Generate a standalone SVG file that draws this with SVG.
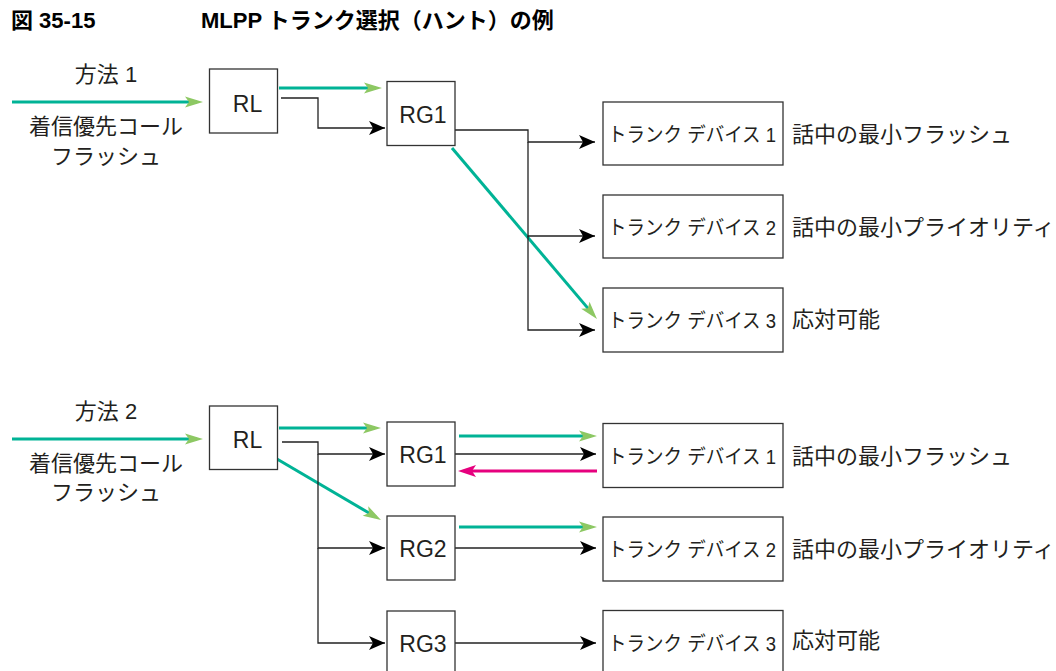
<svg xmlns="http://www.w3.org/2000/svg" width="1056" height="671" viewBox="0 0 1056 671">
<style>
text{font-family:"Liberation Sans","Noto Sans CJK JP",sans-serif;fill:#231f20}
.title{font-size:22px;font-weight:bold;fill:#000}
.lbl{font-size:22px}
.box{fill:#fff;stroke:#333;stroke-width:1.3}
.bt{font-size:23px;text-anchor:middle}
.tt{font-size:20px}
.blk{fill:none;stroke:#222;stroke-width:1.3;marker-end:url(#ab)}
.teal{fill:none;stroke:#00b396;stroke-width:3;marker-end:url(#ag)}
.pink{fill:none;stroke:#e6007e;stroke-width:3;marker-end:url(#ap)}
</style>
<defs>
<marker id="ab" markerUnits="userSpaceOnUse" viewBox="-17 -8 18 16" markerWidth="18" markerHeight="16" refX="0" refY="0" orient="auto"><path d="M0,0 L-16,-7 L-12,0 L-16,7 Z" fill="#000"/></marker>
<marker id="ag" markerUnits="userSpaceOnUse" viewBox="-19 -7 20 14" markerWidth="20" markerHeight="14" refX="-6" refY="0" orient="auto"><path d="M0,0 L-18,-5.5 L-14,0 L-18,5.5 Z" fill="#8dc863"/></marker>
<marker id="ap" markerUnits="userSpaceOnUse" viewBox="-19 -7 20 14" markerWidth="20" markerHeight="14" refX="-6" refY="0" orient="auto"><path d="M0,0 L-18,-6 L-14,0 L-18,6 Z" fill="#e6007e"/></marker>
</defs>

<g id="title">
<text class="title" x="11" y="28">図 35-15</text>
<text class="title" x="201" y="28">MLPP トランク選択（ハント）の例</text>
</g>

<g id="labels1">
<text class="lbl" x="106" y="82" text-anchor="middle">方法 1</text>
<text class="lbl" x="106" y="134" text-anchor="middle">着信優先コール</text>
<text class="lbl" x="106" y="164" text-anchor="middle">フラッシュ</text>
</g>
<g id="labels2">
<text class="lbl" x="106" y="419" text-anchor="middle">方法 2</text>
<text class="lbl" x="106" y="471" text-anchor="middle">着信優先コール</text>
<text class="lbl" x="106" y="500" text-anchor="middle">フラッシュ</text>
</g>

<g id="connectors">
<path class="teal" d="M12,102 H197"/>
<path class="teal" d="M279,88 H376"/>
<path class="teal" d="M452,148 L593.1,314.4"/>
<path class="blk" d="M281,98 H318 V128 H385"/>
<path class="blk" d="M455,130 H528 V142 H595"/>
<path class="blk" d="M528,142 V236 H595"/>
<path class="blk" d="M528,236 V330 H595"/>
<path class="teal" d="M12,439 H197"/>
<path class="teal" d="M279,428 H375"/>
<path class="teal" d="M277,459 L375.8,517"/>
<path class="teal" d="M459,436 H591"/>
<path class="teal" d="M459,527 H591"/>
<path class="pink" d="M597,471 H464"/>
<path class="blk" d="M282,442 H318 V454 H385"/>
<path class="blk" d="M318,454 V548 H385"/>
<path class="blk" d="M318,548 V643 H385"/>
<path class="blk" d="M455,454 H596"/>
<path class="blk" d="M455,548 H596"/>
<path class="blk" d="M455,643 H596"/>
</g>

<g id="rl1"><rect class="box" x="209.5" y="69" width="68" height="64"/><text class="bt" x="247.5" y="112">RL</text></g>
<g id="rg1a"><rect class="box" x="387" y="81.5" width="68" height="64"/><text class="bt" x="423" y="122.5">RG1</text></g>
<g id="td1a"><rect class="box" x="603" y="102" width="180" height="63"/><text class="tt" x="608" y="141.5" textLength="168" lengthAdjust="spacingAndGlyphs">トランク デバイス 1</text></g>
<g id="td2a"><rect class="box" x="603" y="195" width="180" height="63"/><text class="tt" x="608" y="234.5" textLength="168" lengthAdjust="spacingAndGlyphs">トランク デバイス 2</text></g>
<g id="td3a"><rect class="box" x="603" y="288" width="180" height="64"/><text class="tt" x="608" y="328" textLength="168" lengthAdjust="spacingAndGlyphs">トランク デバイス 3</text></g>
<g id="st1a"><text class="lbl" x="792" y="142">話中の最小フラッシュ</text></g>
<g id="st2a"><text class="lbl" x="792" y="235">話中の最小プライオリティ</text></g>
<g id="st3a"><text class="lbl" x="792" y="327">応対可能</text></g>

<g id="rl2"><rect class="box" x="209.5" y="406" width="68" height="63.5"/><text class="bt" x="247.5" y="448">RL</text></g>
<g id="rg1b"><rect class="box" x="387" y="422" width="68" height="64"/><text class="bt" x="423" y="463">RG1</text></g>
<g id="rg2b"><rect class="box" x="387" y="516" width="68" height="64"/><text class="bt" x="423" y="557">RG2</text></g>
<g id="rg3b"><rect class="box" x="387" y="611" width="68" height="64"/><text class="bt" x="423" y="652">RG3</text></g>
<g id="td1b"><rect class="box" x="603" y="423.5" width="180" height="64"/><text class="tt" x="608" y="463.5" textLength="168" lengthAdjust="spacingAndGlyphs">トランク デバイス 1</text></g>
<g id="td2b"><rect class="box" x="603" y="517" width="180" height="64"/><text class="tt" x="608" y="557" textLength="168" lengthAdjust="spacingAndGlyphs">トランク デバイス 2</text></g>
<g id="td3b"><rect class="box" x="603" y="610.5" width="180" height="64"/><text class="tt" x="608" y="650.5" textLength="168" lengthAdjust="spacingAndGlyphs">トランク デバイス 3</text></g>
<g id="st1b"><text class="lbl" x="792" y="464">話中の最小フラッシュ</text></g>
<g id="st2b"><text class="lbl" x="792" y="557">話中の最小プライオリティ</text></g>
<g id="st3b"><text class="lbl" x="792" y="648">応対可能</text></g>
</svg>
